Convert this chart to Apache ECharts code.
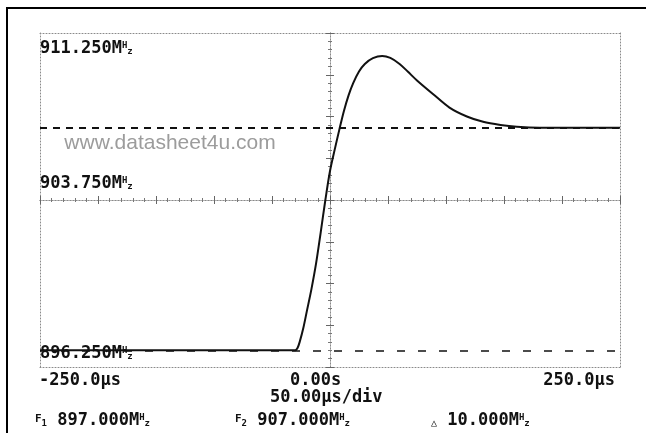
<!DOCTYPE html>
<html>
<head>
<meta charset="utf-8">
<script src="https://cdn.jsdelivr.net/npm/echarts@6/dist/echarts.min.js"></script>
<style>
  html, body { margin: 0; padding: 0; background: #fff; }
  #chart { width: 646px; height: 433px; }
</style>
</head>
<body>
<div id="chart"></div>
<script>
// Frequency settling trace: time (µs) against carrier frequency (MHz)
const timeUs = [-250, -30, -28, -26, -23, -20, -16, -12, -8, -4, 0, 4, 8, 12, 16, 20, 25, 30, 37, 45, 52, 60, 67, 75, 89, 103, 118, 132, 147, 161, 181, 250];
const freqMHz = [897.0, 897.0, 897.1, 897.4, 898.0, 898.75, 899.75, 900.9, 902.3, 903.75, 905.05, 906.0, 906.9, 907.75, 908.45, 909.0, 909.52, 909.86, 910.12, 910.22, 910.13, 909.86, 909.52, 909.12, 908.5, 907.9, 907.5, 907.26, 907.12, 907.04, 907.0, 907.0];

// Screen scale
const freqTicks = [911.25, 903.75, 896.25];
const freqTickLabels = ['911.250', '903.750', '896.250'];
const timeTicks = [-250, 0, 250];
const timeTickLabels = ['-250.0µs', '0.00s', '250.0µs'];
const timebaseLabel = '50.00µs/div';

// Marker cursors
const cursorF1 = 897.0;
const cursorF2 = 907.0;

const X_MIN = -250, X_MAX = 250, X_DIV = 50;
const Y_MIN = 896.25, Y_MAX = 911.25, Y_DIV = 1.875;

const G = { left: 40, right: 26, top: 33, bottom: 66 };
const GW = 646 - G.left - G.right;
const GH = 433 - G.top - G.bottom;

const MONO = '"DejaVu Sans Mono", "Liberation Mono", monospace';
const INK = '#111';
const DOT = '#8a8a8a';

const chart = echarts.init(document.getElementById('chart'), null, { renderer: 'canvas' });

const dottedLine = { show: true, onZero: false, lineStyle: { color: DOT, type: [1, 2], width: 1 } };

function frameAxis(extra) {
  return Object.assign({
    type: 'value', gridIndex: 0,
    axisLine: dottedLine,
    axisTick: { show: false }, axisLabel: { show: false },
    splitLine: { show: false }, minorTick: { show: false }
  }, extra);
}

function tickAxis(extra, inside) {
  return Object.assign({
    type: 'value', gridIndex: 0,
    axisLine: dottedLine,
    axisTick: { show: true, inside: inside, length: 4, lineStyle: { color: '#666', width: 1 } },
    minorTick: { show: true, splitNumber: 5, length: 2, lineStyle: { color: '#777', width: 1 } },
    axisLabel: { show: false },
    splitLine: { show: false }
  }, extra);
}

const xCommon = { min: X_MIN, max: X_MAX, interval: X_DIV };
const yCommon = { min: Y_MIN, max: Y_MAX, interval: Y_DIV };

const fmtMHz = v => v.toFixed(3);

chart.setOption({
  animation: false,
  backgroundColor: '#fff',
  grid: { left: G.left, right: G.right, top: G.top, bottom: G.bottom, containLabel: false },
  xAxis: [
    frameAxis(Object.assign({ position: 'bottom' }, xCommon)),
    frameAxis(Object.assign({ position: 'top' }, xCommon)),
    tickAxis(Object.assign({ position: 'bottom', offset: -GH / 2 }, xCommon), false),
    tickAxis(Object.assign({ position: 'bottom', offset: -GH / 2 }, xCommon), true)
  ],
  yAxis: [
    frameAxis(Object.assign({ position: 'left' }, yCommon)),
    frameAxis(Object.assign({ position: 'right' }, yCommon)),
    tickAxis(Object.assign({ position: 'left', offset: -GW / 2 }, yCommon), false),
    tickAxis(Object.assign({ position: 'left', offset: -GW / 2 }, yCommon), true)
  ],
  series: [{
    type: 'line',
    xAxisIndex: 0, yAxisIndex: 0,
    data: timeUs.map((t, i) => [t, freqMHz[i]]),
    showSymbol: false,
    smooth: 0.3,
    lineStyle: { color: INK, width: 2 },
    z: 5,
    markLine: {
      silent: true,
      symbol: 'none',
      label: { show: false },
      data: [
        { yAxis: cursorF2, lineStyle: { color: INK, width: 2, type: [7, 6] } },
        { yAxis: cursorF1, lineStyle: { color: INK, width: 1.5, type: [8, 13] } }
      ]
    }
  }]
});

// Text overlays placed through the chart's own coordinate conversion
const mhzRich = {
  h: { fontFamily: MONO, fontWeight: 'bold', fontSize: 9, verticalAlign: 'top', fill: INK },
  z: { fontFamily: MONO, fontWeight: 'bold', fontSize: 9, verticalAlign: 'bottom', fill: INK },
  sf: { fontFamily: MONO, fontWeight: 'bold', fontSize: 11, verticalAlign: 'top', fill: INK },
  sn: { fontFamily: MONO, fontWeight: 'bold', fontSize: 9, verticalAlign: 'bottom', fill: INK },
  tri: { fontFamily: MONO, fontWeight: 'bold', fontSize: 10, verticalAlign: 'bottom', fill: INK }
};

function label(text, x, y, align) {
  return {
    type: 'text', x: x, y: y, z: 10,
    style: {
      text: text,
      fontFamily: MONO, fontWeight: 'bold', fontSize: 17,
      lineHeight: 15,
      fill: INK,
      align: align || 'left',
      verticalAlign: 'middle',
      rich: mhzRich
    }
  };
}

const mhzSuffix = 'M{h|H}{z|z}';
const yLabelShift = [16, -16, -13];

const overlays = [];
freqTicks.forEach((v, i) => {
  const p = chart.convertToPixel({ xAxisIndex: 0, yAxisIndex: 0 }, [X_MIN, v]);
  overlays.push(Object.assign(label(freqTickLabels[i] + mhzSuffix, p[0], p[1] + yLabelShift[i]), { z: 1 }));
});

const axisY = chart.convertToPixel({ xAxisIndex: 0, yAxisIndex: 0 }, [X_MIN, Y_MIN])[1];
const xAligns = ['left', 'left', 'right'];
const xShift = [-1, -40, -5];
timeTicks.forEach((t, i) => {
  const px = chart.convertToPixel({ xAxisIndex: 0 }, t);
  overlays.push(label(timeTickLabels[i], px + xShift[i], axisY + 14, xAligns[i]));
});

const centerX = chart.convertToPixel({ xAxisIndex: 0 }, 0);
overlays.push(label(timebaseLabel, centerX - 60, axisY + 31));

overlays.push(label('{sf|F}{sn|1} ' + fmtMHz(cursorF1) + mhzSuffix, 35, axisY + 54));
overlays.push(label('{sf|F}{sn|2} ' + fmtMHz(cursorF2) + mhzSuffix, 235, axisY + 54));
overlays.push(label('{tri|△} ' + fmtMHz(cursorF2 - cursorF1) + mhzSuffix, 431, axisY + 54));

// watermark
overlays.push({
  type: 'text', x: 170, y: 143, z: 2,
  style: {
    text: 'www.datasheet4u.com',
    fontFamily: '"Liberation Sans", Arial, sans-serif',
    fontSize: 21, fill: '#9c9c9c',
    align: 'center', verticalAlign: 'middle'
  }
});

// outer frame
overlays.push({
  type: 'rect', z: 0,
  shape: { x: 7, y: 8, width: 700, height: 500 },
  style: { fill: 'none', stroke: '#000', lineWidth: 2 }
});

chart.setOption({ graphic: overlays });
</script>
</body>
</html>
